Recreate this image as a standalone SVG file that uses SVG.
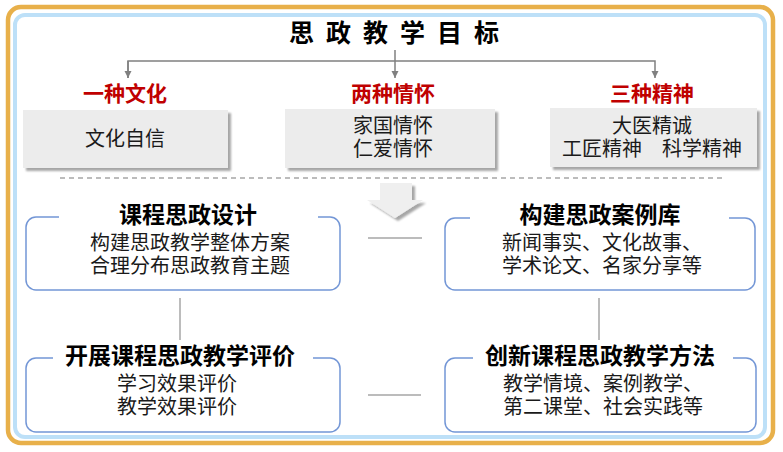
<svg xmlns="http://www.w3.org/2000/svg" width="783" height="452" viewBox="0 0 783 452">
<style>
text{font-family:"Noto Sans CJK SC","Noto Sans",sans-serif;}
.title{font-size:25px;font-weight:bold;fill:#000;}
.red{font-size:21px;font-weight:bold;fill:#c00000;text-anchor:middle;}
.gtxt{font-size:20px;fill:#1a1a1a;text-anchor:middle;}
.ntitle{font-size:23px;font-weight:bold;fill:#000;text-anchor:middle;}
.body{font-size:20px;fill:#1a1a1a;}
.mid{text-anchor:middle;}
.gbox{fill:#ececec;filter:url(#sh);}
.nbox{fill:#fff;stroke:#7396d6;stroke-width:1.5;}
.conn{stroke:#808080;stroke-width:1.5;fill:none;}
.conn2{stroke:#a6a6a6;stroke-width:1.5;fill:none;}
</style>
<defs>
<filter id="sh" x="-10%" y="-10%" width="130%" height="140%">
<feGaussianBlur in="SourceAlpha" stdDeviation="1.2"/>
<feOffset dx="2.5" dy="2.5" result="o"/>
<feComponentTransfer><feFuncA type="linear" slope="0.35"/></feComponentTransfer>
<feMerge><feMergeNode/><feMergeNode in="SourceGraphic"/></feMerge>
</filter>
<marker id="ah" viewBox="0 0 8 8" refX="7" refY="4" markerWidth="8" markerHeight="8" markerUnits="userSpaceOnUse" orient="auto">
<path d="M0,0.5 L7,4 L0,7.5 Z" fill="#808080"/>
</marker>
</defs>
<rect width="783" height="452" fill="#fff"/>
<rect x="8" y="7" width="765" height="436" rx="13" fill="none" stroke="#e8b04a" stroke-width="4.5"/>
<rect x="15" y="15" width="750" height="422" rx="10" fill="#fff" stroke="#bde0f8" stroke-width="4"/>

<g id="title">
<text class="title" x="289" y="42" textLength="210" lengthAdjust="spacing">思 政 教 学 目 标</text>
</g>

<g id="connectors">
<line class="conn" x1="395" y1="50" x2="395" y2="78" marker-end="url(#ah)"/>
<polyline class="conn" points="128,78 128,61 655,61 655,78" marker-end="url(#ah)"/>
<line class="conn" x1="128" y1="61" x2="128" y2="78" marker-end="url(#ah)"/>
<line x1="60" y1="178" x2="724" y2="178" stroke="#a6a6a6" stroke-width="1.5" stroke-dasharray="5 4"/>
<line class="conn2" x1="368" y1="238" x2="422" y2="238"/>
<line class="conn2" x1="368" y1="395" x2="421" y2="395"/>
<line class="conn2" x1="180" y1="298" x2="180" y2="340"/>
<line class="conn2" x1="599" y1="298" x2="599" y2="340"/>
</g>

<g id="arrow">
<path d="M380,183 L412,183 L412,200 L423,200 L395,218 L367,200 L380,200 Z" fill="#efefef" filter="url(#sh)"/>
</g>

<g id="goal1">
<text class="red" x="125" y="101">一种文化</text>
<rect class="gbox" x="23" y="110" width="205" height="58"/>
<text class="gtxt" x="125" y="146">文化自信</text>
</g>
<g id="goal2">
<text class="red" x="393" y="101">两种情怀</text>
<rect class="gbox" x="285" y="109" width="210" height="59"/>
<text class="gtxt" x="393" y="133">家国情怀<tspan x="393" dy="23">仁爱情怀</tspan></text>
</g>
<g id="goal3">
<text class="red" x="652" y="101">三种精神</text>
<rect class="gbox" x="550" y="108" width="207" height="59"/>
<text class="gtxt" x="652" y="133" xml:space="preserve">大医精诚<tspan x="652" dy="23">工匠精神　科学精神</tspan></text>
</g>

<g id="nodeA">
<rect class="nbox" x="26" y="217" width="314" height="73" rx="10"/>
<rect x="59" y="210" width="259" height="12" fill="#fff"/>
<text class="ntitle" x="188" y="223">课程思政设计</text>
<text class="body mid" x="190" y="250">构建思政教学整体方案<tspan x="190" dy="23">合理分布思政教育主题</tspan></text>
</g>
<g id="nodeB">
<rect class="nbox" x="445" y="218" width="310" height="72" rx="10"/>
<rect x="470" y="210" width="259" height="12" fill="#fff"/>
<text class="ntitle" x="600" y="223">构建思政案例库</text>
<text class="body" x="502" y="250">新闻事实、文化故事、<tspan x="502" dy="23">学术论文、名家分享等</tspan></text>
</g>
<g id="nodeC">
<rect class="nbox" x="26" y="358" width="314" height="74" rx="10"/>
<rect x="53" y="350" width="260" height="12" fill="#fff"/>
<text class="ntitle" x="180" y="364">开展课程思政教学评价</text>
<text class="body mid" x="177" y="391">学习效果评价<tspan x="177" dy="23">教学效果评价</tspan></text>
</g>
<g id="nodeD">
<rect class="nbox" x="445" y="358" width="311" height="74" rx="10"/>
<rect x="473" y="350" width="260" height="12" fill="#fff"/>
<text class="ntitle" x="600" y="364">创新课程思政教学方法</text>
<text class="body" x="503" y="391">教学情境、案例教学、<tspan x="503" dy="23">第二课堂、社会实践等</tspan></text>
</g>
</svg>
